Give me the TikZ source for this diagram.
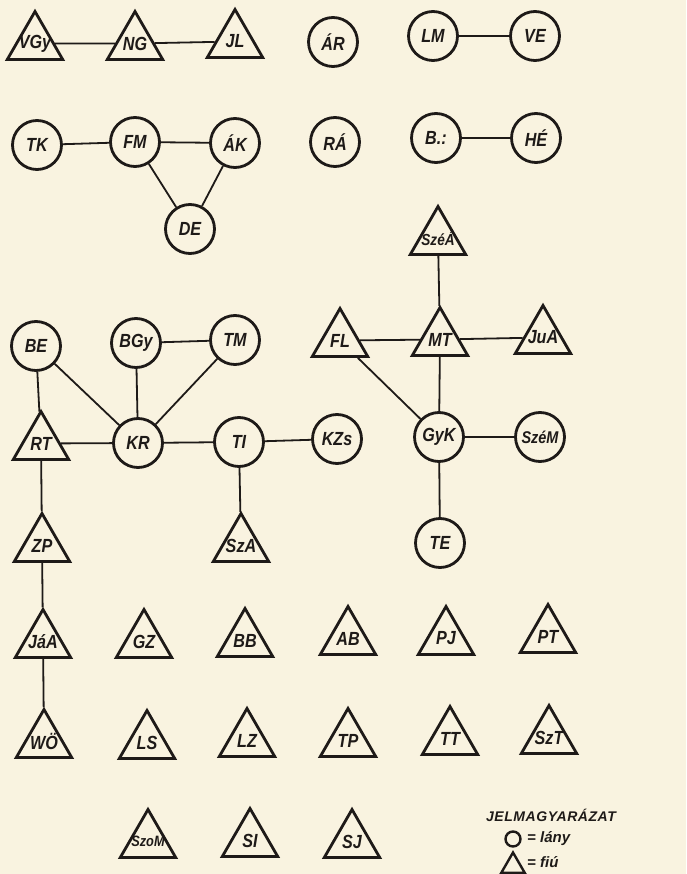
\documentclass[tikz,border=0pt]{standalone}
\usepackage{fontspec}
\setmainfont{Liberation Sans}
\newfontfamily\labfont{Liberation Sans}[FakeStretch=0.85]
\newfontfamily\legfont{Liberation Sans}[LetterSpace=4]
\usetikzlibrary{shapes.geometric}
\definecolor{paper}{RGB}{249,243,224}
\definecolor{ink}{RGB}{30,26,24}
\newcommand\tl[1]{\makebox[0pt]{#1}}
\tikzset{
  labtext/.style={font=\labfont\bfseries\itshape\fontsize{19}{19}\selectfont, text=ink},
  girl/.style={circle, draw=ink, line width=2.8pt, minimum size=49pt, inner sep=0pt, labtext},
  boy/.style={regular polygon, regular polygon sides=3, draw=ink, line width=2.8pt, minimum size=64pt, inner sep=0pt, labtext},
  link/.style={draw=ink, line width=1.8pt},
  legtext/.style={font=\bfseries\itshape\fontsize{15}{15}\selectfont, text=ink, inner sep=0pt},
}
\begin{document}
\begin{tikzpicture}[x=1pt,y=-1pt]
\fill[paper] (0,0) rectangle (686,874);
\useasboundingbox (0,0) rectangle (686,874);
% top row
\node[boy] (VGy) at (35,43.5) {\tl{VGy}};
\node[boy] (NG) at (135,43.5) {\tl{NG}};
\node[boy] (JL) at (235,41.5) {\tl{JL}};
\node[girl] (AR) at (333,42) {\tl{ÁR}};
\node[girl] (LM) at (433,36) {\tl{LM}};
\node[girl] (VE) at (535,36) {\tl{VE}};
% second row
\node[girl] (TK) at (37,145) {\tl{TK}};
\node[girl] (FM) at (135,142) {\tl{FM}};
\node[girl] (AK) at (235,143) {\tl{ÁK}};
\node[girl] (DE) at (190,229) {\tl{DE}};
\node[girl] (RA) at (335,142) {\tl{RÁ}};
\node[girl] (B) at (436,138) {\tl{B.:}};
\node[girl] (HE) at (536,138) {\tl{HÉ}};
% right cluster
\node[boy] (SzeA) at (438,238.5) {\tl{\fontsize{16}{16}\selectfont SzéÁ}};
\node[boy] (FL) at (340,340.5) {\tl{FL}};
\node[boy] (MT) at (440,339.5) {\tl{MT}};
\node[boy] (JuA) at (543,337.5) {\tl{JuA}};
\node[girl] (GyK) at (439,437) {\tl{GyK}};
\node[girl] (SzeM) at (540,437) {\tl{\fontsize{17}{17}\selectfont SzéM}};
\node[girl] (TE) at (440,543) {\tl{TE}};
% left cluster
\node[girl] (BE) at (36,346) {\tl{BE}};
\node[girl] (BGy) at (136,343) {\tl{BGy}};
\node[girl] (TM) at (235,340) {\tl{TM}};
\node[boy] (RT) at (41,443.5) {\tl{RT}};
\node[girl] (KR) at (138,443) {\tl{KR}};
\node[girl] (TI) at (239,442) {\tl{TI}};
\node[girl] (KZs) at (337,439) {\tl{KZs}};
\node[boy] (ZP) at (42,545.5) {\tl{ZP}};
\node[boy] (SzA) at (241,545.5) {\tl{SzA}};
% lower rows
\node[boy] (JaA) at (43,641.5) {\tl{JáA}};
\node[boy] (GZ) at (144,641.5) {\tl{GZ}};
\node[boy] (BB) at (245,640.5) {\tl{BB}};
\node[boy] (AB) at (348,638.5) {\tl{AB}};
\node[boy] (PJ) at (446,638.5) {\tl{PJ}};
\node[boy] (PT) at (548,636.5) {\tl{PT}};
\node[boy] (WO) at (44,741.5) {\tl{WÖ}};
\node[boy] (LS) at (147,742.5) {\tl{LS}};
\node[boy] (LZ) at (247,740.5) {\tl{LZ}};
\node[boy] (TP) at (348,740.5) {\tl{TP}};
\node[boy] (TT) at (450,738.5) {\tl{TT}};
\node[boy] (SzT) at (549,737.5) {\tl{SzT}};
\node[boy] (SzoM) at (148,841.5) {\tl{\fontsize{15}{15}\selectfont SzoM}};
\node[boy] (SI) at (250,840.5) {\tl{SI}};
\node[boy] (SJ) at (352,841.5) {\tl{SJ}};
% links
\draw[link] (VGy) -- (NG);
\draw[link] (NG) -- (JL);
\draw[link] (LM) -- (VE);
\draw[link] (TK) -- (FM);
\draw[link] (FM) -- (AK);
\draw[link] (FM) -- (DE);
\draw[link] (AK) -- (DE);
\draw[link] (B) -- (HE);
\draw[link] (SzeA) -- (MT);
\draw[link] (FL) -- (MT);
\draw[link] (MT) -- (JuA);
\draw[link] (MT) -- (GyK);
\draw[link] (FL) -- (GyK);
\draw[link] (GyK) -- (SzeM);
\draw[link] (GyK) -- (TE);
\draw[link] (BE) -- (RT);
\draw[link] (BE) -- (KR);
\draw[link] (BGy) -- (KR);
\draw[link] (BGy) -- (TM);
\draw[link] (TM) -- (KR);
\draw[link] (RT) -- (KR);
\draw[link] (KR) -- (TI);
\draw[link] (TI) -- (KZs);
\draw[link] (TI) -- (SzA);
\draw[link] (RT) -- (ZP);
\draw[link] (ZP) -- (JaA);
\draw[link] (JaA) -- (WO);
% legend
\node[legtext, font=\legfont\bfseries\itshape\fontsize{14}{14}\selectfont] (leg) at (551,815) {JELMAGYARÁZAT};
\node[circle, draw=ink, line width=2.4pt, minimum size=15pt, inner sep=0pt] (legc) at (513,839) {};
\node[legtext, anchor=west] (legl) at (527,839) {= lány};
\node[regular polygon, regular polygon sides=3, draw=ink, line width=2.4pt, minimum size=27pt, inner sep=0pt] (legt) at (513,866) {};
\node[legtext, anchor=west] (legf) at (527,862) {= fiú};
\end{tikzpicture}
\end{document}
